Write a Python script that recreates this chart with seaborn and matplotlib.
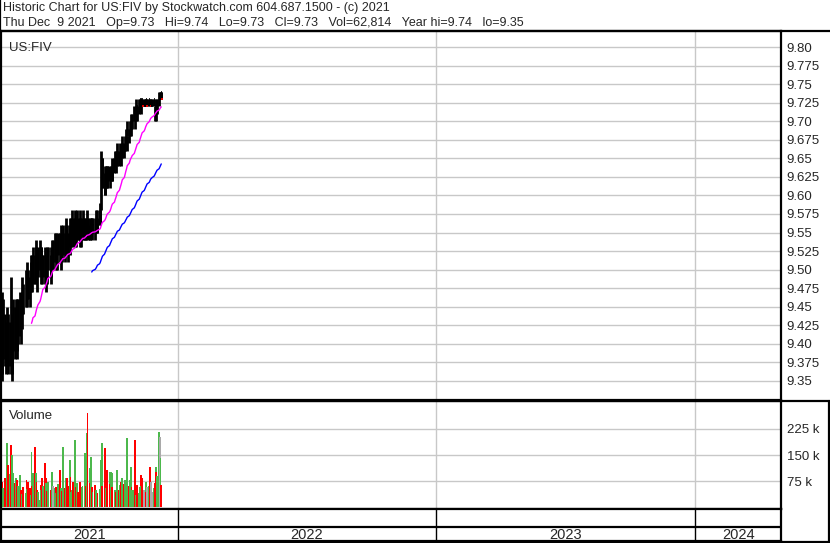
import matplotlib
matplotlib.use("Agg")
import matplotlib.pyplot as plt
from matplotlib.lines import Line2D
import pandas as pd
import seaborn as sns

# daily bars for US:FIV, last bar Dec 9 2021
high = [
    9.47, 9.45, 9.46, 9.44, 9.42, 9.43, 9.45, 9.44, 9.43, 9.49,
    9.42, 9.44, 9.46, 9.45, 9.46, 9.46, 9.44, 9.46, 9.47, 9.46,
    9.47, 9.49, 9.48, 9.50, 9.49, 9.51, 9.50, 9.49, 9.51, 9.52,
    9.52, 9.53, 9.52, 9.54, 9.53, 9.52, 9.53, 9.54, 9.53, 9.53,
    9.52, 9.52, 9.53, 9.51, 9.52, 9.53, 9.53, 9.53, 9.52, 9.54,
    9.54, 9.55, 9.54, 9.55, 9.54, 9.55, 9.55, 9.54, 9.56, 9.55,
    9.56, 9.55, 9.56, 9.57, 9.56, 9.55, 9.57, 9.56, 9.57, 9.58,
    9.57, 9.58, 9.57, 9.56, 9.58, 9.57, 9.58, 9.57, 9.56, 9.57,
    9.58, 9.57, 9.57, 9.56, 9.58, 9.57, 9.57, 9.56, 9.57, 9.57,
    9.57, 9.57, 9.58, 9.58, 9.57, 9.58, 9.59, 9.66, 9.65, 9.65,
    9.64, 9.63, 9.64, 9.64, 9.64, 9.64, 9.63, 9.64, 9.65, 9.64,
    9.65, 9.66, 9.66, 9.66, 9.67, 9.66, 9.67, 9.66, 9.67, 9.68,
    9.67, 9.68, 9.69, 9.68, 9.70, 9.69, 9.70, 9.71, 9.70, 9.71,
    9.72, 9.71, 9.72, 9.73, 9.72, 9.73, 9.73, 9.73, 9.73, 9.73,
    9.73, 9.73, 9.73, 9.73, 9.73, 9.73, 9.73, 9.73, 9.73, 9.73,
    9.72, 9.73, 9.72, 9.73, 9.74, 9.74, 9.74, 9.74,
]
low = [
    9.35, 9.36, 9.38, 9.37, 9.36, 9.37, 9.38, 9.36, 9.37, 9.36,
    9.35, 9.36, 9.39, 9.38, 9.40, 9.39, 9.38, 9.40, 9.41, 9.40,
    9.42, 9.44, 9.44, 9.45, 9.45, 9.46, 9.46, 9.45, 9.47, 9.48,
    9.47, 9.48, 9.48, 9.49, 9.48, 9.47, 9.49, 9.50, 9.48, 9.49,
    9.48, 9.49, 9.48, 9.47, 9.49, 9.48, 9.50, 9.49, 9.48, 9.50,
    9.50, 9.51, 9.50, 9.51, 9.50, 9.52, 9.51, 9.50, 9.52, 9.51,
    9.52, 9.51, 9.52, 9.53, 9.52, 9.51, 9.53, 9.52, 9.53, 9.54,
    9.53, 9.54, 9.53, 9.53, 9.54, 9.54, 9.54, 9.53, 9.53, 9.54,
    9.54, 9.54, 9.54, 9.54, 9.55, 9.54, 9.54, 9.54, 9.55, 9.54,
    9.55, 9.54, 9.55, 9.55, 9.55, 9.56, 9.56, 9.58, 9.61, 9.61,
    9.60, 9.60, 9.61, 9.61, 9.61, 9.62, 9.61, 9.62, 9.62, 9.62,
    9.63, 9.64, 9.63, 9.64, 9.65, 9.64, 9.65, 9.64, 9.65, 9.66,
    9.65, 9.66, 9.67, 9.66, 9.68, 9.67, 9.68, 9.69, 9.68, 9.69,
    9.70, 9.69, 9.70, 9.71, 9.70, 9.71, 9.72, 9.71, 9.72, 9.72,
    9.72, 9.72, 9.72, 9.72, 9.72, 9.72, 9.72, 9.72, 9.72, 9.72,
    9.70, 9.71, 9.70, 9.71, 9.72, 9.73, 9.73, 9.73,
]
close = [
    9.40, 9.38, 9.42, 9.40, 9.37, 9.40, 9.41, 9.38, 9.40, 9.38,
    9.36, 9.39, 9.42, 9.41, 9.43, 9.42, 9.40, 9.43, 9.44, 9.43,
    9.45, 9.47, 9.46, 9.48, 9.47, 9.49, 9.48, 9.47, 9.49, 9.50,
    9.49, 9.51, 9.50, 9.52, 9.50, 9.49, 9.51, 9.52, 9.50, 9.51,
    9.50, 9.51, 9.50, 9.49, 9.51, 9.50, 9.52, 9.51, 9.50, 9.52,
    9.52, 9.53, 9.52, 9.53, 9.52, 9.54, 9.53, 9.52, 9.54, 9.53,
    9.54, 9.53, 9.54, 9.55, 9.54, 9.53, 9.55, 9.54, 9.55, 9.56,
    9.55, 9.56, 9.55, 9.54, 9.56, 9.55, 9.56, 9.55, 9.54, 9.55,
    9.56, 9.55, 9.56, 9.55, 9.56, 9.55, 9.56, 9.55, 9.56, 9.55,
    9.56, 9.55, 9.56, 9.57, 9.56, 9.57, 9.58, 9.63, 9.64, 9.63,
    9.62, 9.61, 9.62, 9.63, 9.62, 9.63, 9.62, 9.63, 9.64, 9.63,
    9.64, 9.65, 9.64, 9.65, 9.66, 9.65, 9.66, 9.65, 9.66, 9.67,
    9.66, 9.67, 9.68, 9.67, 9.69, 9.68, 9.69, 9.70, 9.69, 9.70,
    9.71, 9.70, 9.71, 9.72, 9.71, 9.72, 9.73, 9.72, 9.73, 9.72,
    9.72, 9.72, 9.73, 9.72, 9.72, 9.73, 9.72, 9.72, 9.72, 9.73,
    9.71, 9.72, 9.71, 9.72, 9.73, 9.73, 9.74, 9.73,
]
volume_k = [
    73, 40, 55, 84, 60, 110, 185, 121, 95, 179,
    66, 150, 98, 70, 84, 45, 78, 60, 92, 49,
    38, 29, 58, 40, 78, 52, 72, 55, 34, 159,
    62, 98, 173, 98, 72, 49, 45, 20, 63, 50,
    84, 60, 127, 84, 69, 48, 72, 49, 35, 101,
    60, 55, 58, 40, 49, 66, 107, 40, 55, 47,
    173, 55, 38, 84, 84, 60, 136, 87, 45, 49,
    72, 193, 58, 50, 69, 44, 63, 72, 38, 58,
    60, 72, 156, 60, 213, 271, 112, 70, 144, 58,
    44, 63, 49, 30, 40, 52, 35, 136, 185, 60,
    136, 170, 55, 87, 107, 101, 66, 101, 98, 58,
    45, 49, 43, 60, 107, 50, 63, 72, 40, 84,
    66, 78, 78, 55, 199, 60, 78, 115, 58, 49,
    49, 193, 35, 47, 63, 40, 58, 92, 60, 84,
    50, 29, 72, 45, 58, 60, 115, 72, 44, 55,
    70, 115, 101, 90, 216, 202, 141, 63,
]
holidays = ["2021-05-31", "2021-07-05", "2021-09-06", "2021-11-25"]
price_ticks = [9.35, 9.375, 9.40, 9.425, 9.45, 9.475, 9.50, 9.525, 9.55, 9.575,
               9.60, 9.625, 9.65, 9.675, 9.70, 9.725, 9.75, 9.775, 9.80]
price_labels = ["9.35", "9.375", "9.40", "9.425", "9.45", "9.475", "9.50", "9.525", "9.55",
                "9.575", "9.60", "9.625", "9.65", "9.675", "9.70", "9.725", "9.75", "9.775", "9.80"]
volume_ticks = [75, 150, 225]
years = ["2021", "2022", "2023", "2024"]
year_starts = ["2022-01-01", "2023-01-01", "2024-01-01"]
header1 = "Historic Chart for US:FIV by Stockwatch.com 604.687.1500 - (c) 2021"
header2 = ("Thu Dec  9 2021   Op=9.73   Hi=9.74   Lo=9.73   Cl=9.73   "
           "Vol=62,814   Year hi=9.74   lo=9.35")

W, H = 830, 543

sns.set_style("white")
plt.rcParams["font.family"] = ["Liberation Sans", "DejaVu Sans"]


def box(x0, y0, x1, y1):
    """pixel box (top-left origin) -> figure rect"""
    return [x0 / W, 1 - y1 / H, (x1 - x0) / W, (y1 - y0) / H]


bday = pd.offsets.CustomBusinessDay(holidays=holidays)
dates = pd.date_range(end="2021-12-09", periods=len(close), freq=bday)
df = pd.DataFrame({"date": dates, "high": high, "low": low,
                   "close": close, "volume": volume_k})
df["ma30"] = df["close"].rolling(30).mean()
df["ma90"] = df["close"].rolling(90).mean()
chg = df["close"].diff().fillna(-1)
df["color"] = ["#4cb84c" if c > 0 else ("#ff0000" if c < 0 else "#a9a9a9") for c in chg]

x_left = pd.Timestamp("2021-04-27")
x_right = pd.Timestamp("2024-05-01")
bounds = [pd.Timestamp(d) for d in year_starts]

fig = plt.figure(figsize=(W / 100, H / 100), dpi=100)

# price panel
ax = fig.add_axes(box(1, 31, 781, 400))
ax.vlines(df["date"], df["low"], df["high"], color="black", lw=2)
ax.hlines(df["close"], df["date"], df["date"] + pd.Timedelta(days=1.6), color="black", lw=1.2)
down = df[(df["close"] == df["low"]) & (chg < 0)]
ax.hlines(down["close"], down["date"], down["date"] + pd.Timedelta(days=2.2), color="#ff0000", lw=1.3)
sns.lineplot(data=df, x="date", y="ma30", color="#ff00ff", lw=1, ax=ax)
sns.lineplot(data=df, x="date", y="ma90", color="#0000ff", lw=1, ax=ax)
ax.set_ylim(9.3243, 9.8216)
ax.set_yticks(price_ticks)
ax.set_yticklabels(price_labels)
ax.grid(axis="y", color="#c8c8c8", lw=1)
for b in bounds:
    ax.axvline(b, color="#c8c8c8", lw=1)
ax.text(8 / 780, 0.97, "US:FIV", transform=ax.transAxes, fontsize=9.5, va="top")

# volume panel
axv = fig.add_axes(box(1, 401, 781, 509))
axv.bar(df["date"], df["volume"], width=2.6, color=df["color"], lw=0)
axv.set_ylim(-5, 305)
axv.set_yticks(volume_ticks)
axv.set_yticklabels([f"{v} k" for v in volume_ticks])
axv.grid(axis="y", color="#c8c8c8", lw=1)
for b in bounds:
    axv.axvline(b, color="#c8c8c8", lw=1)
axv.text(8 / 780, 0.92, "Volume", transform=axv.transAxes, fontsize=9.5, va="top")

# year band
axy = fig.add_axes(box(1, 509, 781, 541))
axy.set_ylim(0, 1)
axy.axhline(0.45, color="black", lw=1.6)
edges = [x_left] + bounds + [x_right]
for b in bounds:
    axy.axvline(b, color="black", lw=1)
for i, yr in enumerate(years):
    mid = edges[i] + (edges[i + 1] - edges[i]) / 2
    axy.text(mid, 0.2, yr, ha="center", va="center", fontsize=10.5,
             family=["Liberation Sans Narrow", "Liberation Sans"])
axy.set_yticks([])
axy.set_xticks([])

for a in (ax, axv, axy):
    a.set_xlim(x_left, x_right)
    a.set_xlabel("")
    a.set_ylabel("")
    for s in a.spines.values():
        s.set_color("black")
        s.set_linewidth(1.6)
for a in (ax, axv):
    a.yaxis.tick_right()
    a.tick_params(axis="y", length=0, pad=4, labelsize=9.5)
    a.tick_params(axis="x", length=0, labelbottom=False)

# outer frame and header
for (x0, y0, x1, y1) in [(0, 0, 0, H), (0, 30.5, W, 30.5), (0, 401, W, 401),
                         (0, H - 1.5, W, H - 1.5), (W - 1, 401, W - 1, H)]:
    fig.add_artist(Line2D([x0 / W, x1 / W], [1 - y0 / H, 1 - y1 / H],
                          color="black", lw=1.6, transform=fig.transFigure))
fig.text(3 / W, 1 - 8 / H, header1, fontsize=9.0, va="center")
fig.text(3 / W, 1 - 23 / H, header2, fontsize=9.0, va="center")

fig.savefig("out.png", dpi=100)
